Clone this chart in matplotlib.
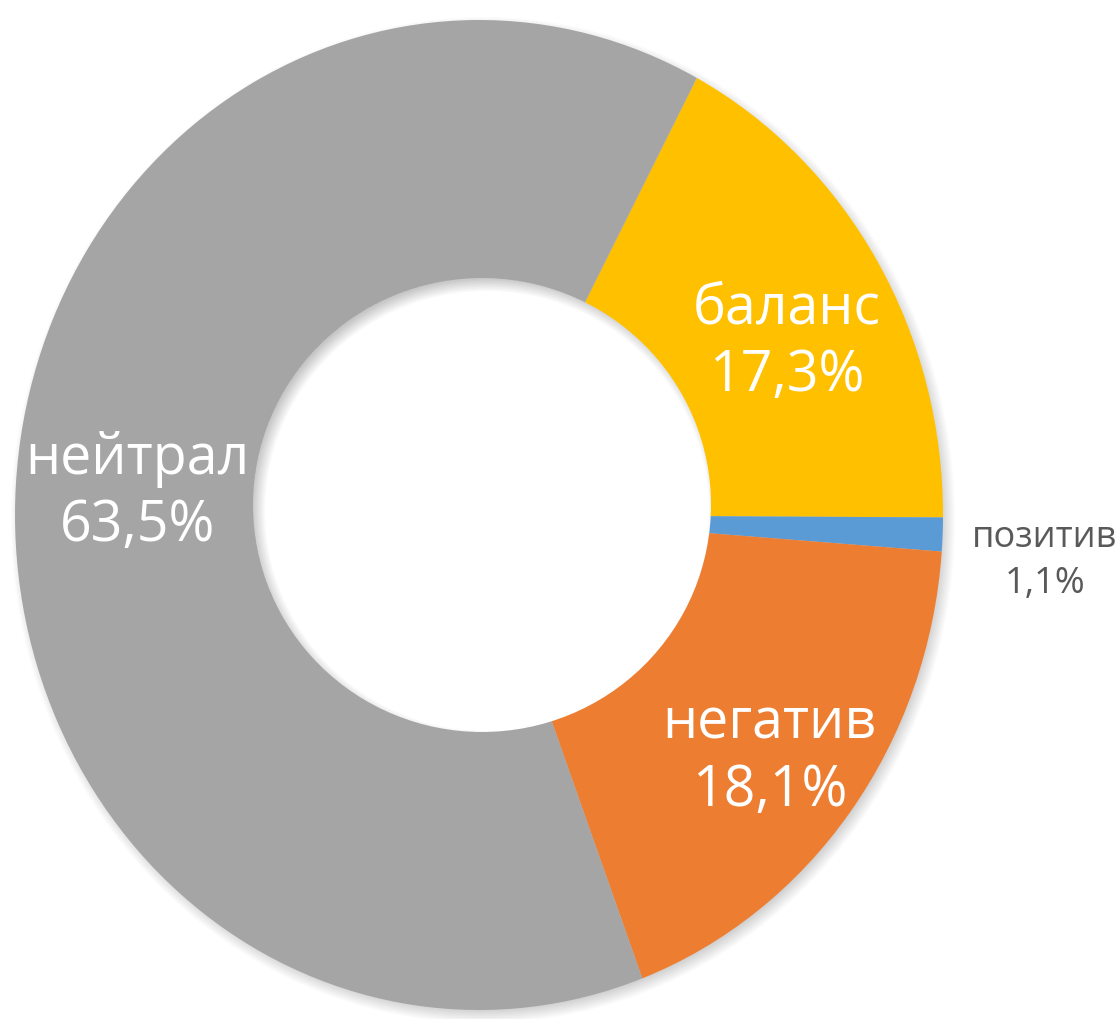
import numpy as np
import matplotlib.pyplot as plt
from matplotlib.patches import Ellipse

# -----------------------------
# Data
# -----------------------------
labels = ["баланс", "позитив", "негатив", "нейтрал"]
values = [17.3, 1.1, 18.1, 63.5]
pct_text = ["17,3%", "1,1%", "18,1%", "63,5%"]
colors = ["#FFC000", "#5B9BD5", "#ED7D31", "#A5A5A5"]

plt.rcParams['font.family'] = ['Open Sans', 'DejaVu Sans']

W, H = 1119, 1019
fig = plt.figure(figsize=(W / 100, H / 100), dpi=100)
ax = fig.add_axes([0, 0, 1, 1])

# ring geometry in pixels (picture is slightly stretched vertically)
cx, cy, rx, ry = 479, 515, 464, 495
hx, hy, hrx, hry = 482, 505, 229, 227
ux, uy = 1 / rx, 1 / ry


def to_data(px, py):
    return (px - cx) * ux, (cy - py) * uy


# soft outer shadow, offset bottom-right
sx, sy = to_data(cx + 4, cy + 5)
for s in np.linspace(-8, 8, 14):
    ax.add_patch(Ellipse((sx, sy), 2 * (rx + s) * ux, 2 * (ry + s) * uy,
                         facecolor="black", alpha=0.017, linewidth=0))

wedges, _ = ax.pie(values, colors=colors, startangle=62, counterclock=False,
                   radius=1, wedgeprops=dict(linewidth=0))

# hole
hcx, hcy = to_data(hx, hy)
hole = Ellipse((hcx, hcy), 2 * hrx * ux, 2 * hry * uy,
               facecolor="white", linewidth=0, zorder=3)
ax.add_patch(hole)

# shadow of the ring falling into the hole (top-left crescent)
ox, oy = to_data(hx + 5, hy + 6)
band = 80
for s in np.linspace(-7, 9, 12):
    e = Ellipse((ox, oy), 2 * (hrx + s + band / 2) * ux,
                2 * (hry + s + band / 2) * uy, facecolor="none",
                edgecolor="black", linewidth=band * 0.72, alpha=0.022, zorder=4)
    ax.add_patch(e)
    e.set_clip_path(hole)

# -----------------------------
# Labels
# -----------------------------
# small pixel nudges so the text sits where the original placed it
nudge = {"баланс": (9, -18), "негатив": (12, -20), "нейтрал": (6, -2)}
for w, lab, pct in zip(wedges, labels, pct_text):
    ang = np.deg2rad((w.theta1 + w.theta2) / 2)
    if lab == "позитив":
        r = 1.22
        ax.text(r * np.cos(ang), r * np.sin(ang) - 0.045, lab + "\n" + pct,
                ha="center", va="center", fontsize=26, color="#595959",
                linespacing=1.35, zorder=5)
    else:
        r = 0.75
        dx, dy = nudge[lab]
        ax.text(r * np.cos(ang) + dx * ux, r * np.sin(ang) + dy * uy,
                lab + "\n" + pct, ha="center", va="center", fontsize=40,
                color="white", linespacing=1.25, zorder=5)

ax.set_aspect("auto")
ax.set_xlim(-cx * ux, (W - cx) * ux)
ax.set_ylim((cy - H) * uy, cy * uy)
ax.axis("off")

fig.savefig("out.png", dpi=100)
